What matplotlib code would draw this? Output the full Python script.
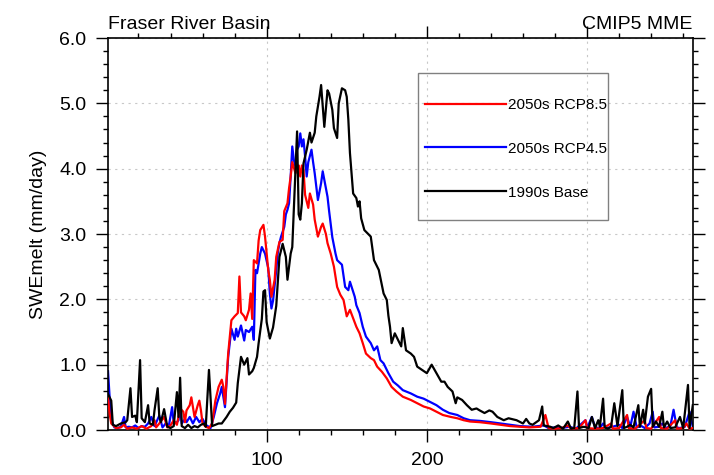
import matplotlib
matplotlib.use("Agg")
import matplotlib.pyplot as plt
from matplotlib.patches import Rectangle
from matplotlib.ticker import MultipleLocator

plt.rcParams['font.family'] = ['Liberation Sans', 'DejaVu Sans']

# day of year / SWE melt (mm/day)
base_day = [1, 3, 4, 6, 9, 12, 13, 15, 16, 18, 19, 21, 22, 24, 26, 27, 29, 30, 32, 33,
            34, 36, 38, 40, 42, 44, 45, 46, 47, 49, 51, 53, 55, 57, 59, 61, 62, 64, 66, 68,
            70, 72, 75, 77, 79, 81, 82, 84, 86, 88, 89, 91, 92, 94, 95, 97, 98, 99, 100, 102,
            104, 106, 108, 110, 112, 113, 115, 116, 118, 119, 120, 121, 122, 123, 125, 127, 128, 130, 131, 133,
            134, 136, 138, 139, 141, 142, 144, 145, 147, 149, 150, 151, 152, 154, 156, 157, 158, 159, 161, 163,
            165, 167, 170, 173, 175, 176, 177, 178, 180, 182, 184, 185, 187, 190, 192, 194, 197, 200, 203, 206,
            209, 211, 213, 216, 218, 219, 222, 225, 228, 231, 233, 236, 239, 241, 244, 248, 251, 256, 260, 262,
            264, 266, 270, 272, 273, 277, 279, 282, 285, 288, 290, 292, 294, 295, 298, 301, 303, 305, 307, 308,
            310, 311, 313, 315, 317, 319, 322, 323, 325, 327, 329, 332, 333, 335, 336, 338, 340, 341, 343, 345,
            347, 348, 350, 352, 355, 358, 360, 363, 364, 366]
base_val = [0.55, 0.45, 0.08, 0.06, 0.10, 0.12, 0.15, 0.64, 0.20, 0.22, 0.12, 1.07, 0.18, 0.12, 0.38, 0.10, 0.08, 0.30, 0.64, 0.20,
            0.12, 0.32, 0.05, 0.03, 0.06, 0.58, 0.20, 0.80, 0.06, 0.03, 0.08, 0.03, 0.06, 0.04, 0.08, 0.10, 0.05, 0.92, 0.06, 0.08,
            0.10, 0.10, 0.20, 0.28, 0.34, 0.42, 0.72, 1.12, 1.00, 1.10, 0.85, 0.90, 0.95, 1.12, 1.33, 1.70, 2.12, 2.14, 1.65, 1.40,
            1.57, 1.90, 2.65, 2.85, 2.65, 2.30, 2.70, 2.80, 3.98, 4.57, 3.30, 3.22, 3.47, 4.08, 4.29, 4.55, 4.40, 4.55, 4.80, 5.10,
            5.28, 4.64, 5.20, 5.15, 4.90, 4.62, 4.47, 5.00, 5.23, 5.20, 5.10, 4.75, 4.24, 3.62, 3.55, 3.42, 3.50, 3.24, 3.06, 3.01,
            2.96, 2.60, 2.45, 2.09, 1.99, 1.75, 1.58, 1.33, 1.48, 1.38, 1.28, 1.56, 1.22, 1.17, 1.12, 0.97, 0.92, 0.87, 1.00, 0.87,
            0.74, 0.74, 0.66, 0.59, 0.41, 0.50, 0.46, 0.38, 0.31, 0.33, 0.30, 0.26, 0.30, 0.28, 0.20, 0.15, 0.18, 0.15, 0.10, 0.17,
            0.10, 0.08, 0.15, 0.36, 0.07, 0.05, 0.03, 0.07, 0.02, 0.13, 0.02, 0.03, 0.59, 0.03, 0.05, 0.03, 0.20, 0.03, 0.15, 0.05,
            0.48, 0.04, 0.02, 0.05, 0.41, 0.06, 0.61, 0.03, 0.05, 0.08, 0.04, 0.38, 0.05, 0.31, 0.10, 0.51, 0.63, 0.05, 0.13, 0.05,
            0.28, 0.04, 0.13, 0.03, 0.04, 0.20, 0.03, 0.69, 0.03, 0.38]

rcp45_day = [1, 2, 3, 5, 7, 9, 11, 12, 14, 16, 18, 20, 22, 24, 26, 28, 30, 33, 35, 37,
             39, 41, 42, 44, 45, 46, 47, 49, 50, 52, 54, 56, 58, 60, 62, 65, 67, 69, 71, 72,
             74, 76, 78, 80, 81, 82, 84, 86, 87, 89, 91, 92, 93, 94, 96, 97, 99, 101, 102, 103,
             104, 106, 107, 108, 109, 111, 112, 113, 114, 115, 116, 117, 118, 119, 120, 121, 122, 123, 124, 125,
             126, 128, 129, 130, 131, 132, 134, 135, 136, 138, 139, 141, 143, 144, 147, 149, 151, 152, 155, 156,
             158, 160, 162, 165, 167, 169, 171, 173, 176, 179, 182, 185, 190, 194, 198, 202, 206, 210, 214, 219,
             223, 227, 233, 240, 246, 252, 258, 266, 273, 276, 280, 284, 289, 293, 299, 300, 303, 305, 308, 310,
             312, 316, 320, 322, 325, 327, 329, 331, 334, 336, 339, 341, 342, 345, 347, 349, 352, 354, 356, 358,
             361, 364, 366]
rcp45_val = [0.90, 0.50, 0.15, 0.04, 0.03, 0.05, 0.20, 0.04, 0.05, 0.04, 0.07, 0.03, 0.06, 0.05, 0.10, 0.20, 0.06, 0.22, 0.04, 0.10,
             0.07, 0.35, 0.10, 0.12, 0.15, 0.35, 0.10, 0.17, 0.12, 0.20, 0.10, 0.20, 0.12, 0.17, 0.08, 0.03, 0.20, 0.41, 0.56, 0.66,
             0.35, 1.12, 1.55, 1.38, 1.55, 1.43, 1.60, 1.37, 1.53, 1.50, 1.58, 1.38, 2.45, 2.40, 2.70, 2.80, 2.70, 2.48, 2.09, 1.86,
             1.98, 2.45, 2.72, 2.86, 2.96, 3.11, 3.30, 3.37, 3.47, 3.88, 4.34, 4.13, 4.03, 4.29, 4.34, 4.54, 4.34, 4.45, 4.19, 3.88,
             4.10, 4.29, 4.10, 3.93, 3.73, 3.52, 3.78, 3.96, 3.83, 3.57, 3.35, 2.95, 2.70, 2.60, 2.53, 2.19, 2.14, 2.27, 2.04, 1.91,
             1.79, 1.58, 1.43, 1.33, 1.22, 1.28, 1.07, 1.02, 0.87, 0.74, 0.68, 0.61, 0.56, 0.51, 0.48, 0.43, 0.38, 0.31, 0.26, 0.23,
             0.18, 0.15, 0.14, 0.12, 0.10, 0.08, 0.06, 0.05, 0.07, 0.03, 0.04, 0.03, 0.05, 0.02, 0.15, 0.03, 0.20, 0.04, 0.03, 0.10,
             0.03, 0.05, 0.08, 0.03, 0.20, 0.05, 0.28, 0.04, 0.06, 0.03, 0.10, 0.28, 0.04, 0.05, 0.10, 0.03, 0.06, 0.31, 0.04, 0.03,
             0.05, 0.28, 0.05]

rcp85_day = [1, 2, 3, 6, 9, 11, 13, 16, 19, 22, 25, 28, 30, 31, 33, 36, 38, 40, 42, 44,
             46, 48, 49, 50, 52, 53, 55, 57, 58, 59, 60, 62, 64, 66, 68, 70, 72, 73, 74, 76,
             78, 80, 82, 83, 84, 86, 87, 89, 90, 91, 92, 94, 95, 96, 98, 99, 101, 102, 103, 105,
             106, 108, 110, 111, 113, 114, 115, 116, 118, 119, 120, 121, 122, 123, 124, 126, 127, 129, 130, 132,
             134, 135, 137, 138, 140, 142, 144, 146, 148, 150, 152, 154, 156, 158, 160, 162, 165, 167, 169, 172,
             175, 178, 181, 185, 190, 194, 198, 202, 206, 210, 215, 219, 223, 227, 233, 240, 246, 252, 258, 264,
             271, 274, 276, 280, 284, 288, 290, 295, 299, 300, 305, 310, 315, 316, 320, 325, 326, 330, 336, 337,
             340, 345, 346, 350, 355, 356, 360, 362, 364, 366]
rcp85_val = [0.50, 0.25, 0.10, 0.03, 0.04, 0.08, 0.02, 0.04, 0.02, 0.06, 0.02, 0.06, 0.15, 0.04, 0.10, 0.20, 0.04, 0.07, 0.15, 0.08,
             0.33, 0.28, 0.12, 0.30, 0.38, 0.50, 0.20, 0.38, 0.45, 0.30, 0.10, 0.05, 0.03, 0.10, 0.45, 0.66, 0.77, 0.66, 0.40, 1.17,
             1.68, 1.74, 1.79, 2.35, 1.80, 1.74, 1.68, 1.84, 2.09, 1.70, 2.60, 2.55, 2.90, 3.06, 3.14, 2.96, 2.45, 2.30, 2.04, 2.30,
             2.65, 2.88, 2.91, 3.35, 3.47, 3.70, 3.88, 4.10, 3.93, 4.00, 4.05, 3.88, 4.05, 3.98, 3.60, 3.40, 3.62, 3.45, 3.22, 2.96,
             3.11, 3.16, 3.00, 2.86, 2.70, 2.50, 2.19, 2.07, 1.99, 1.74, 1.84, 1.71, 1.58, 1.48, 1.33, 1.17, 1.10, 1.07, 0.97, 0.89,
             0.79, 0.66, 0.59, 0.51, 0.46, 0.41, 0.36, 0.33, 0.28, 0.23, 0.20, 0.18, 0.15, 0.13, 0.12, 0.10, 0.08, 0.06, 0.05, 0.04,
             0.05, 0.23, 0.03, 0.02, 0.03, 0.07, 0.02, 0.03, 0.15, 0.03, 0.02, 0.03, 0.10, 0.02, 0.03, 0.23, 0.03, 0.02, 0.15, 0.03,
             0.02, 0.20, 0.03, 0.02, 0.15, 0.02, 0.03, 0.10, 0.02, 0.03]

fig = plt.figure(figsize=(7.14, 4.75), dpi=100)
ax = fig.add_axes([0.1513, 0.0947, 0.819, 0.8253])

l85, = ax.plot(rcp85_day, rcp85_val, color='#ff0000', lw=1.6, label='2050s RCP8.5', zorder=3)
l45, = ax.plot(rcp45_day, rcp45_val, color='#0000ff', lw=1.6, label='2050s RCP4.5', zorder=2)
lb, = ax.plot(base_day, base_val, color='black', lw=1.6, label='1990s Base', zorder=4)

ax.set_xlim(1, 366)
ax.set_ylim(0, 6)
ax.xaxis.set_major_locator(MultipleLocator(100))
ax.xaxis.set_minor_locator(MultipleLocator(20))
ax.yaxis.set_major_locator(MultipleLocator(1))
ax.yaxis.set_minor_locator(MultipleLocator(0.2))
ax.set_yticks([0, 1, 2, 3, 4, 5, 6])
ax.set_yticklabels(['0.0', '1.0', '2.0', '3.0', '4.0', '5.0', '6.0'])
ax.tick_params(which='both', direction='out', top=True, right=True, labelsize=14,
               width=1.0, pad=7)
ax.tick_params(which='major', length=8.5)
ax.tick_params(which='minor', length=3.5)
ax.tick_params(axis='x', labeltop=False)
for s in ax.spines.values():
    s.set_linewidth(1.2)
ax.grid(True, which='major', color='#c8c8c8', linestyle=(0, (2, 4)), linewidth=0.8)

ax.set_ylabel('SWEmelt (mm/day)', fontsize=14, labelpad=9)
ax.text(0, 1.012, 'Fraser River Basin', transform=ax.transAxes, fontsize=14,
        ha='left', va='bottom')
ax.text(1, 1.012, 'CMIP5 MME', transform=ax.transAxes, fontsize=14,
        ha='right', va='bottom')

# legend box
fig.patches.append(Rectangle((418 / 714, 1 - 220 / 475), 190 / 714, 147 / 475,
                             transform=fig.transFigure, fill=False,
                             edgecolor='#808080', linewidth=1.0, zorder=5))
ax.legend(handles=[l85, l45, lb], loc='upper left',
          bbox_to_anchor=(425 / 714, 1 - 98 / 475), bbox_transform=fig.transFigure,
          frameon=False, fontsize=11, borderpad=0, borderaxespad=0,
          handlelength=5.3, handletextpad=0.1, labelspacing=1.95)

fig.savefig('out.png', dpi=100)
